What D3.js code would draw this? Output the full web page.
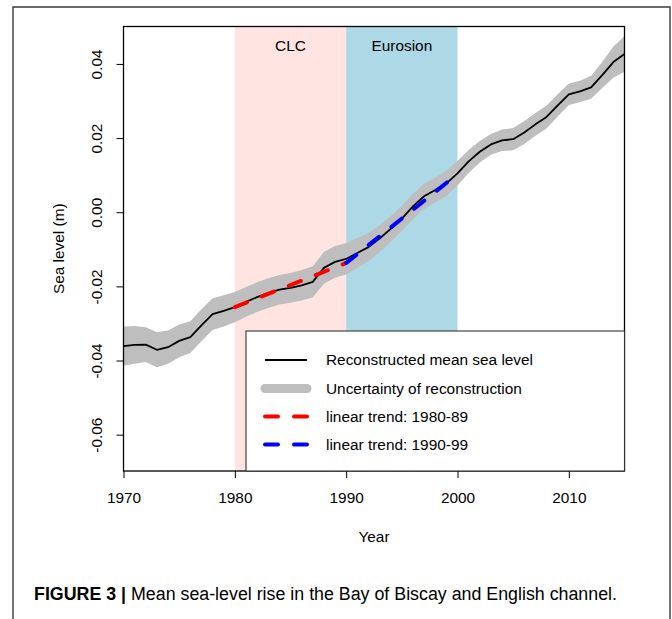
<!DOCTYPE html>
<html>
<head>
<meta charset="utf-8">
<script src="https://cdn.jsdelivr.net/npm/d3@7"></script>
<style>
html, body { margin: 0; padding: 0; background: #fff; }
svg { display: block; }
text { font-family: "Liberation Sans", Arial, Helvetica, sans-serif; fill: #000; }
</style>
</head>
<body>
<svg id="chart" width="672" height="619"></svg>
<script>
// ---------------- data ----------------
const years = [1970, 1971, 1972, 1973, 1974, 1975, 1976, 1977, 1978, 1979,
               1980, 1981, 1982, 1983, 1984, 1985, 1986, 1987, 1988, 1989,
               1990, 1991, 1992, 1993, 1994, 1995, 1996, 1997, 1998, 1999,
               2000, 2001, 2002, 2003, 2004, 2005, 2006, 2007, 2008, 2009,
               2010, 2011, 2012, 2013, 2014, 2015];
const seaLevel = [-0.0361, -0.0358, -0.0357, -0.0371, -0.0364, -0.0347, -0.0337, -0.0305, -0.0275, -0.0266,
                  -0.0256, -0.0242, -0.0229, -0.0218, -0.0209, -0.0204, -0.0197, -0.0188, -0.0150, -0.0134,
                  -0.0126, -0.0110, -0.0094, -0.0071, -0.0045, -0.0017, 0.0016, 0.0043, 0.0060, 0.0078,
                  0.0105, 0.0137, 0.0163, 0.0183, 0.0194, 0.0197, 0.0215, 0.0237, 0.0257, 0.0288,
                  0.0318, 0.0326, 0.0337, 0.0370, 0.0405, 0.0427];
const uncertainty = [0.0053, 0.0051, 0.0047, 0.0047, 0.0045, 0.0044, 0.0043, 0.0043, 0.0043, 0.0042,
                     0.0041, 0.0040, 0.0040, 0.0040, 0.0040, 0.0040, 0.0041, 0.0042, 0.0043, 0.0043,
                     0.0042, 0.0040, 0.0038, 0.0036, 0.0035, 0.0034, 0.0034, 0.0034, 0.0034, 0.0034,
                     0.0033, 0.0031, 0.0029, 0.0028, 0.0029, 0.0030, 0.0031, 0.0031, 0.0031, 0.0030,
                     0.0029, 0.0029, 0.0031, 0.0035, 0.0042, 0.0048];
const trendYears8089 = [1980, 1989.9];
const trendValues8089 = [-0.0256, -0.0138];
const trendYears9099 = [1990, 1999.5];
const trendValues9099 = [-0.0137, 0.0091];

const periodLabels = ["CLC", "Eurosion"];
const periodStarts = [1980, 1990];
const periodEnds = [1990, 2000];

const xTicks = [1970, 1980, 1990, 2000, 2010];
const yTicks = [-0.06, -0.04, -0.02, 0.00, 0.02, 0.04];
const yTickLabels = ["-0.06", "-0.04", "-0.02", "0.00", "0.02", "0.04"];

const legendLabels = ["Reconstructed mean sea level", "Uncertainty of reconstruction",
                      "linear trend: 1980-89", "linear trend: 1990-99"];
const captionBold = "FIGURE 3 |";
const captionText = " Mean sea-level rise in the Bay of Biscay and English channel.";

// ---------------- layout ----------------
const FS = 15.4;
const svg = d3.select("#chart");
const L = 123.5, R = 624.5, T = 26.5, B = 471;
const x = d3.scaleLinear().domain([1970, 2015]).range([L, R]);
const y = d3.scaleLinear().domain([-0.0698, 0.0501]).range([B, T]);
const periodColors = ["#FFE4E1", "#ADD8E6"];

// outer figure frame
svg.append("path")
  .attr("d", "M13,640 L13,7 L670,7 L670,640")
  .attr("fill", "none").attr("stroke", "#3a3a3a").attr("stroke-width", 1.4);

const clip = svg.append("defs").append("clipPath").attr("id", "plotclip");
clip.append("rect").attr("x", L).attr("y", T).attr("width", R - L).attr("height", B - T);

const plot = svg.append("g").attr("clip-path", "url(#plotclip)");

// shaded periods
plot.selectAll("rect.period").data(periodLabels).enter().append("rect")
  .attr("class", "period")
  .attr("x", (d, i) => x(periodStarts[i]))
  .attr("width", (d, i) => x(periodEnds[i]) - x(periodStarts[i]))
  .attr("y", T).attr("height", B - T)
  .attr("fill", (d, i) => periodColors[i]);

svg.selectAll("text.period").data(periodLabels).enter().append("text")
  .attr("class", "period")
  .attr("x", (d, i) => x((periodStarts[i] + periodEnds[i]) / 2))
  .attr("y", 50.5)
  .attr("text-anchor", "middle")
  .attr("font-size", FS)
  .text(d => d);

// uncertainty band
const series = years.map((yr, i) => ({ yr, v: seaLevel[i], u: uncertainty[i] }));
plot.append("path")
  .datum(series)
  .attr("fill", "#BEBEBE")
  .attr("d", d3.area().x(d => x(d.yr)).y0(d => y(d.v - d.u)).y1(d => y(d.v + d.u)));

// main line
plot.append("path")
  .datum(series)
  .attr("fill", "none").attr("stroke", "#000").attr("stroke-width", 1.8)
  .attr("stroke-linejoin", "round")
  .attr("d", d3.line().x(d => x(d.yr)).y(d => y(d.v)));

// trend lines
function trend(yrs, vals, color) {
  plot.append("path")
    .datum(yrs.map((yr, i) => [yr, vals[i]]))
    .attr("fill", "none").attr("stroke", color).attr("stroke-width", 4)
    .attr("stroke-dasharray", "13,16").attr("stroke-linecap", "round")
    .attr("d", d3.line().x(d => x(d[0])).y(d => y(d[1])));
}
trend(trendYears8089, trendValues8089, "#FF0000");
trend(trendYears9099, trendValues9099, "#0000FF");

// axes
const xAxis = svg.append("g").attr("transform", `translate(0,${B})`)
  .call(d3.axisBottom(x).tickValues(xTicks).tickFormat(d3.format("d")).tickSize(7).tickPadding(9));
const yAxis = svg.append("g").attr("transform", `translate(${L},0)`)
  .call(d3.axisLeft(y).tickValues(yTicks).tickFormat((d, i) => yTickLabels[i]).tickSize(7));
[xAxis, yAxis].forEach(g => {
  g.select(".domain").remove();
  g.selectAll("line").attr("stroke", "#000").attr("stroke-width", 1);
  g.selectAll("text").attr("font-size", FS).attr("font-family", "Liberation Sans, Arial, sans-serif").attr("fill", "#000");
});
xAxis.selectAll("text").attr("dy", null).attr("y", 31.5);
yAxis.selectAll("text")
  .attr("x", null).attr("dy", null)
  .attr("text-anchor", "middle")
  .attr("transform", "translate(-22,0) rotate(-90)")
  .attr("y", 0);

// plot box
svg.append("rect").attr("x", L).attr("y", T).attr("width", R - L).attr("height", B - T)
  .attr("fill", "none").attr("stroke", "#000").attr("stroke-width", 1.3);

// axis titles
svg.append("text").attr("x", (L + R) / 2).attr("y", 541.5).attr("text-anchor", "middle")
  .attr("font-size", FS).text("Year");
svg.append("text").attr("transform", `translate(64,${(T + B) / 2}) rotate(-90)`)
  .attr("text-anchor", "middle").attr("font-size", FS).text("Sea level (m)");

// legend
const lg = svg.append("g");
lg.append("rect").attr("x", 246).attr("y", 331).attr("width", R - 246).attr("height", B - 331)
  .attr("fill", "#fff").attr("stroke", "#333").attr("stroke-width", 1.1);
const rowY = [360, 388.5, 416.5, 444.5];
const legendStyles = [
  { stroke: "#000", w: 1.8, dash: null, cap: "butt" },
  { stroke: "#BEBEBE", w: 9, dash: null, cap: "round" },
  { stroke: "#FF0000", w: 4, dash: "13,16", cap: "round" },
  { stroke: "#0000FF", w: 4, dash: "13,16", cap: "round" }
];
legendLabels.forEach((lab, i) => {
  const s = legendStyles[i];
  lg.append("line").attr("x1", 265).attr("x2", 307).attr("y1", rowY[i]).attr("y2", rowY[i])
    .attr("stroke", s.stroke).attr("stroke-width", s.w).attr("stroke-linecap", s.cap)
    .attr("stroke-dasharray", s.dash);
  lg.append("text").attr("x", 326).attr("y", rowY[i] + 5.4).attr("font-size", FS).text(lab);
});

// caption
const cap = svg.append("text").attr("x", 34).attr("y", 600)
  .attr("font-size", 18)
  .style("font-family", "'Liberation Sans Narrow', 'Arial Narrow', 'Liberation Sans', sans-serif")
  .attr("fill", "#231f20")
  .attr("textLength", 583).attr("lengthAdjust", "spacingAndGlyphs");
cap.append("tspan").attr("font-weight", "bold").text(captionBold);
cap.append("tspan").text(captionText);
</script>
</body>
</html>
